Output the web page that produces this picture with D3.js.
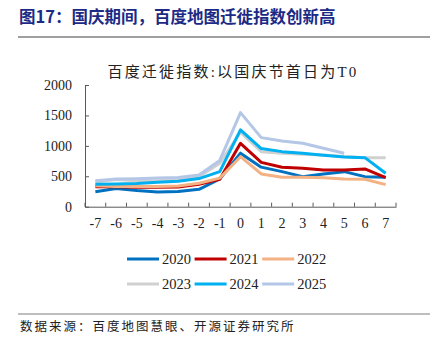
<!DOCTYPE html>
<html>
<head>
<meta charset="utf-8">
<script src="https://cdn.jsdelivr.net/npm/d3@7"></script>
<style>
  body { margin: 0; background: #fff; }
  svg { display: block; }
</style>
</head>
<body>
<div id="chart"></div>
<script>
// data
var days = [-7, -6, -5, -4, -3, -2, -1, 0, 1, 2, 3, 4, 5, 6, 7];
var years = ["2020", "2021", "2022", "2023", "2024", "2025"];
var v2020 = [247, 300, 265, 240, 250, 286, 455, 880, 650, 576, 494, 538, 576, 494, 483];
var v2021 = [329, 329, 320, 320, 325, 370, 450, 1042, 728, 648, 631, 603, 603, 620, 477];
var v2022 = [345, 330, 330, 330, 340, 385, 470, 822, 538, 483, 483, 477, 455, 450, 362];
var v2023 = [405, 445, 425, 425, 435, 492, 714, 1225, 905, 880, 862, 848, 823, 806, 806];
var v2024 = [370, 375, 380, 400, 420, 462, 576, 1262, 955, 905, 878, 845, 817, 806, 549];
var v2025 = [425, 455, 460, 470, 480, 521, 760, 1546, 1135, 1080, 1042, 960, 878];
var series = [v2020, v2021, v2022, v2023, v2024, v2025];
var colors = ["#0070c0", "#c00000", "#f4b183", "#d0d0d0", "#00b0f0", "#b4c7e7"];
var yTicks = [0, 500, 1000, 1500, 2000];

var W = 434, H = 351;
var svg = d3.select("#chart").append("svg")
    .attr("width", W)
    .attr("height", H);

// header
svg.append("text")
    .attr("x", 19).attr("y", 23)
    .attr("font-family", "'Noto Sans CJK SC', sans-serif")
    .attr("font-size", 16.5).attr("font-weight", "bold")
    .attr("fill", "#1c2a85")
    .text("图17：国庆期间，百度地图迁徙指数创新高");
svg.append("line")
    .attr("x1", 18).attr("x2", 430).attr("y1", 37).attr("y2", 37)
    .attr("stroke", "#7f7f7f").attr("stroke-width", 1.5);

svg.append("text")
    .attr("x", 233).attr("y", 77)
    .attr("text-anchor", "middle")
    .attr("font-family", "'Liberation Serif', 'Noto Sans CJK SC', serif")
    .attr("font-size", 15).attr("letter-spacing", 2.2)
    .attr("fill", "#222")
    .text("百度迁徙指数:以国庆节首日为T0");

var x = d3.scaleBand().domain(days).range([85, 396]);
var y = d3.scaleLinear().domain([0, 2000]).range([206.7, 85]);

// y axis
var ya = svg.append("g")
    .attr("transform", "translate(85,0)")
    .call(d3.axisLeft(y).tickValues(yTicks).tickFormat(d3.format("d"))
      .tickSizeInner(-4).tickSizeOuter(0).tickPadding(13));
ya.select(".domain").attr("stroke", "#595959");
ya.selectAll(".tick line").attr("stroke", "#595959");
ya.selectAll("text")
    .attr("font-family", "'Liberation Serif', serif")
    .attr("font-size", 14).attr("fill", "#222");

// x axis: labels at band centres, ticks at band edges
var xa = svg.append("g")
    .attr("transform", "translate(0,206.7)")
    .call(d3.axisBottom(x).tickSize(0).tickPadding(11));
xa.select(".domain").attr("stroke", "#595959");
xa.selectAll("text")
    .attr("font-family", "'Liberation Serif', serif")
    .attr("font-size", 14).attr("fill", "#222");
var edges = days.map(function(d) { return x(d); }).concat([x.range()[1]]);
xa.selectAll(".edge")
    .data(edges)
    .enter().append("line")
    .attr("x1", function(d) { return d; })
    .attr("x2", function(d) { return d; })
    .attr("y1", 0).attr("y2", -4)
    .attr("stroke", "#595959");

// lines
var line = d3.line()
    .x(function(d, i) { return x(days[i]) + x.bandwidth() / 2; })
    .y(function(d) { return y(d); });

svg.selectAll(".series")
    .data(series)
    .enter().append("path")
    .attr("d", line)
    .attr("fill", "none")
    .attr("stroke", function(d, i) { return colors[i]; })
    .attr("stroke-width", 3)
    .attr("stroke-linejoin", "round");

// legend
var leg = svg.selectAll(".leg")
    .data(years)
    .enter().append("g")
    .attr("transform", function(d, i) {
      return "translate(" + (127 + (i % 3) * 67.6) + "," + (259 + Math.floor(i / 3) * 25) + ")";
    });
leg.append("line")
    .attr("x1", 0).attr("x2", 32)
    .attr("stroke", function(d, i) { return colors[i]; })
    .attr("stroke-width", 3);
leg.append("text")
    .attr("x", 35).attr("y", 5)
    .attr("font-family", "'Liberation Serif', serif")
    .attr("font-size", 14.5).attr("fill", "#222")
    .text(function(d) { return d; });

// footer
svg.append("line")
    .attr("x1", 18).attr("x2", 430).attr("y1", 314).attr("y2", 314)
    .attr("stroke", "#7f7f7f").attr("stroke-width", 1.2);
svg.append("text")
    .attr("x", 20).attr("y", 331)
    .attr("font-family", "'Noto Sans CJK SC', sans-serif")
    .attr("font-size", 12.5).attr("fill", "#222")
    .attr("letter-spacing", 2)
    .text("数据来源：百度地图慧眼、开源证券研究所");
</script>
</body>
</html>
